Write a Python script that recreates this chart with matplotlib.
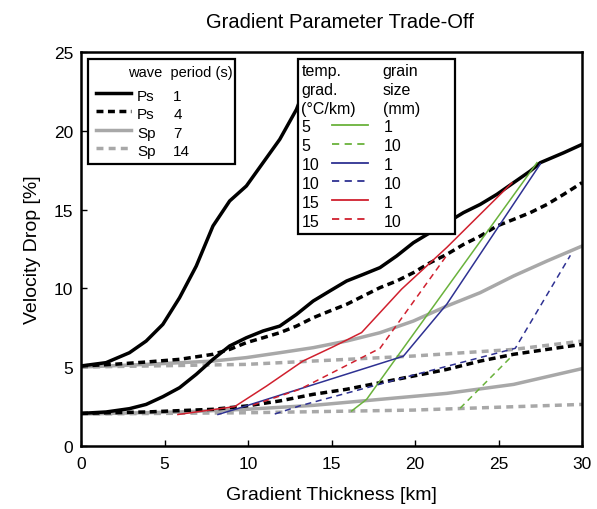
import numpy as np
import matplotlib
matplotlib.use('Agg')
import matplotlib.pyplot as plt
from matplotlib.patches import Rectangle
from matplotlib.lines import Line2D

plt.rcParams['font.family'] = ['Liberation Sans', 'DejaVu Sans']

# seismic curves, upper set (start at 5 %) and lower set (start at 2 %)
ps1_hi_x = [0, 1.5, 2.9, 3.9, 4.9, 5.9, 6.9, 7.9, 8.9, 9.9, 10.9, 11.9, 12.9, 13.5]
ps1_hi_y = [5.08, 5.29, 5.92, 6.66, 7.72, 9.41, 11.42, 13.96, 15.55, 16.5, 17.98, 19.46, 21.36, 23.0]
ps1_lo_x = [0, 1.5, 2.9, 3.9, 4.9, 5.9, 6.9, 7.9, 8.9, 9.9, 10.9, 11.9, 12.9, 13.9, 14.9,
            15.9, 16.9, 17.9, 18.9, 19.9, 20.9, 21.9, 22.9, 23.9, 24.9, 25.9, 26.9, 27.5, 28.9, 30]
ps1_lo_y = [2.07, 2.16, 2.37, 2.64, 3.13, 3.70, 4.55, 5.50, 6.35, 6.87, 7.30, 7.61, 8.35, 9.20, 9.84,
            10.47, 10.89, 11.32, 12.06, 12.90, 13.54, 14.17, 14.81, 15.33, 15.97, 16.71, 17.45, 17.98, 18.61, 19.14]
ps4_hi_x = [0, 1.9, 3.9, 5.9, 7.9, 8.9, 9.9, 10.9, 11.9, 12.9, 13.9, 14.9, 15.9, 16.9,
            17.9, 18.9, 19.9, 20.9, 21.9, 22.9, 23.9, 24.9, 25.9, 26.9, 27.9, 28.9, 30]
ps4_hi_y = [5.08, 5.18, 5.33, 5.50, 5.82, 6.13, 6.56, 6.87, 7.19, 7.61, 8.14, 8.57, 8.99, 9.52,
            10.05, 10.47, 11.0, 11.63, 12.16, 12.79, 13.32, 13.96, 14.38, 14.81, 15.33, 15.97, 16.71]
ps4_lo_x = [0, 3.9, 7.9, 9.9, 11.9, 13.9, 15.9, 17.9, 19.9, 21.9, 23.9, 25.9, 27.9, 30]
ps4_lo_y = [2.07, 2.16, 2.33, 2.54, 2.86, 3.28, 3.60, 4.02, 4.44, 4.86, 5.39, 5.82, 6.13, 6.45]
sp7_hi_x = [0, 3.9, 7.9, 9.9, 11.9, 13.9, 15.9, 17.9, 19.9, 21.9, 23.9, 25.9, 27.9, 30]
sp7_hi_y = [5.01, 5.18, 5.39, 5.61, 5.92, 6.24, 6.66, 7.19, 7.93, 8.88, 9.73, 10.79, 11.74, 12.69]
sp7_lo_x = [0, 5.9, 9.9, 13.9, 17.9, 21.9, 25.9, 30]
sp7_lo_y = [2.03, 2.16, 2.33, 2.58, 2.96, 3.34, 3.91, 4.91]
sp14_hi_x = [0, 9.9, 19.9, 25.9, 30]
sp14_hi_y = [5.01, 5.18, 5.71, 6.13, 6.66]
sp14_lo_x = [0, 9.9, 19.9, 30]
sp14_lo_y = [2.03, 2.11, 2.28, 2.64]

# model curves: temperature gradient / grain size
g5_1_x = [16.2, 17.1, 19.1, 27.3]
g5_1_y = [2.22, 2.96, 5.92, 17.98]
g5_10_x = [22.7, 25.7]
g5_10_y = [2.4, 5.6]
g10_1_x = [8.2, 9.3, 19.3, 21.9, 27.5]
g10_1_y = [2.0, 2.35, 5.7, 9.0, 17.9]
g10_10_x = [11.6, 13.1, 19.9, 26.0, 29.3]
g10_10_y = [2.03, 2.55, 4.5, 6.2, 12.1]
g15_1_x = [5.8, 9.2, 11.1, 13.3, 15.1, 16.8, 19.2, 21.9, 25.8]
g15_1_y = [2.0, 2.5, 3.8, 5.4, 6.3, 7.2, 9.96, 12.6, 16.7]
g15_10_x = [10.3, 13.1, 17.9, 21.9]
g15_10_y = [2.6, 3.6, 6.2, 12.1]

green = '#6ab23c'
blue = '#2e3192'
red = '#d0202e'
gray = '#a8a8a8'

fig = plt.figure(figsize=(5.97, 5.10), dpi=100)
ax = fig.add_axes([0.1357, 0.1235, 0.8393, 0.7725])

lw_thick = 2.5
ax.plot(sp14_hi_x, sp14_hi_y, color=gray, lw=lw_thick, dashes=(2, 1.5))
ax.plot(sp14_lo_x, sp14_lo_y, color=gray, lw=lw_thick, dashes=(2, 1.5))
ax.plot(sp7_hi_x, sp7_hi_y, color=gray, lw=lw_thick)
ax.plot(sp7_lo_x, sp7_lo_y, color=gray, lw=lw_thick)
ax.plot(ps4_hi_x, ps4_hi_y, color='black', lw=lw_thick, dashes=(2, 1.3))
ax.plot(ps4_lo_x, ps4_lo_y, color='black', lw=lw_thick, dashes=(2, 1.3))
ax.plot(ps1_hi_x, ps1_hi_y, color='black', lw=lw_thick)
ax.plot(ps1_lo_x, ps1_lo_y, color='black', lw=lw_thick)

lw_thin = 1.1
ax.plot(g5_1_x, g5_1_y, color=green, lw=lw_thin)
ax.plot(g5_10_x, g5_10_y, color=green, lw=lw_thin, dashes=(4, 3))
ax.plot(g10_1_x, g10_1_y, color=blue, lw=lw_thin)
ax.plot(g10_10_x, g10_10_y, color=blue, lw=lw_thin, dashes=(4, 3))
ax.plot(g15_1_x, g15_1_y, color=red, lw=lw_thin)
ax.plot(g15_10_x, g15_10_y, color=red, lw=lw_thin, dashes=(4, 3))

ax.set_xlim(0, 30)
ax.set_ylim(0, 25)
ax.set_xticks([0, 5, 10, 15, 20, 25, 30])
ax.set_yticks([0, 5, 10, 15, 20, 25])
ax.tick_params(direction='in', length=4, width=1, labelsize=12.5)
ax.tick_params(axis='x', pad=7)
ax.tick_params(axis='y', pad=5.5)
for s in ax.spines.values():
    s.set_linewidth(1.8)
ax.set_xlabel('Gradient Thickness [km]', fontsize=14, labelpad=11)
ax.set_ylabel('Velocity Drop [%]', fontsize=14, labelpad=9)
fig.suptitle('Gradient Parameter Trade-Off', fontsize=14.5, x=0.57, y=0.975)

# legend 1: wave type / period
T = ax.transAxes
ax.add_patch(Rectangle((0.014, 0.716), 0.293, 0.266, transform=T, facecolor='white',
                       edgecolor='black', lw=1.6, zorder=10))
ax.text(0.303, 0.949, 'wave  period (s)', transform=T, ha='right', va='center', fontsize=10.5, zorder=11)
leg1 = [('Ps', '1', 'black', None), ('Ps', '4', 'black', (2, 1.3)),
        ('Sp', '7', gray, None), ('Sp', '14', gray, (2, 1.5))]
rows1 = [0.888, 0.843, 0.794, 0.749]
for (w, p, c, d), fy in zip(leg1, rows1):
    ln = Line2D([0.030, 0.100], [fy + 0.008, fy + 0.008], transform=T, color=c, lw=lw_thick, zorder=11)
    if d:
        ln.set_dashes(d)
    ax.add_line(ln)
    ax.text(0.112, fy, w, transform=T, ha='left', va='center', fontsize=11, zorder=11)
    ax.text(0.184, fy, p, transform=T, ha='left', va='center', fontsize=11, zorder=11)

# legend 2: temperature gradient / grain size
ax.add_patch(Rectangle((0.433, 0.538), 0.314, 0.444, transform=T, facecolor='white',
                       edgecolor='black', lw=1.6, zorder=10))
head_left = ['temp.', 'grad.', '(°C/km)']
head_right = ['grain', 'size', '(mm)']
head_rows = [0.952, 0.904, 0.857]
for a, b, fy in zip(head_left, head_right, head_rows):
    ax.text(0.440, fy, a, transform=T, ha='left', va='center', fontsize=11.5, zorder=11)
    ax.text(0.602, fy, b, transform=T, ha='left', va='center', fontsize=11.5, zorder=11)
leg2 = [('5', '1', green, None), ('5', '10', green, (4, 3)),
        ('10', '1', blue, None), ('10', '10', blue, (4, 3)),
        ('15', '1', red, None), ('15', '10', red, (4, 3))]
rows2 = [0.810, 0.762, 0.714, 0.667, 0.619, 0.571]
for (t, g, c, d), fy in zip(leg2, rows2):
    ln = Line2D([0.501, 0.573], [fy + 0.005, fy + 0.005], transform=T, color=c, lw=1.3, zorder=11)
    if d:
        ln.set_dashes(d)
    ax.add_line(ln)
    ax.text(0.440, fy, t, transform=T, ha='left', va='center', fontsize=11.5, zorder=11)
    ax.text(0.604, fy, g, transform=T, ha='left', va='center', fontsize=11.5, zorder=11)

fig.savefig('out.png', dpi=100)
